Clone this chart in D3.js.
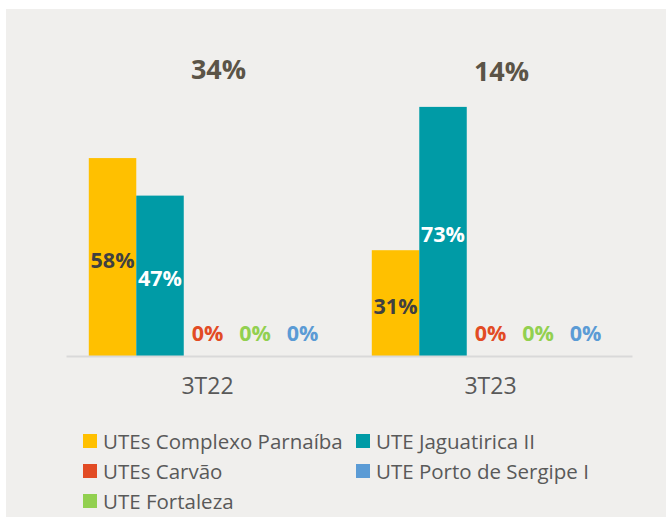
<!DOCTYPE html>
<html lang="pt">
<head>
    <meta charset="UTF-8">
    <title>UTEs 3T22 x 3T23</title>
    <script src="https://d3js.org/d3.v7.min.js"></script>
    <style>
        body { margin: 0; background: #ffffff; }
        text { font-family: "Open Sans", "Noto Sans", sans-serif; }
    </style>
</head>
<body>
    <div id="chart"></div>

    <script>
        // Data
        const categories = ["3T22", "3T23"];
        const seriesNames = ["UTEs Complexo Parnaíba", "UTE Jaguatirica II", "UTEs Carvão", "UTE Fortaleza", "UTE Porto de Sergipe I"];
        const seriesColors = ["#ffc000", "#009ba6", "#e24b24", "#92d050", "#5b9bd5"];
        const values3T22 = [58, 47, 0, 0, 0];
        const values3T23 = [31, 73, 0, 0, 0];
        const topLabels = ["34%", "14%"];
        // legend order as it appears (row by row, two columns)
        const legendOrder = ["UTEs Complexo Parnaíba", "UTE Jaguatirica II", "UTEs Carvão", "UTE Porto de Sergipe I", "UTE Fortaleza"];

        const width = 666, height = 517;

        const svg = d3.select("#chart")
            .append("svg")
            .attr("width", width)
            .attr("height", height);

        // Light gray chart background (white strip on top / left like the original)
        svg.append("rect")
            .attr("x", 6).attr("y", 9)
            .attr("width", width - 6).attr("height", height - 9)
            .attr("fill", "#f0efed");

        const data = categories.map((c, i) => ({
            category: c,
            values: (i === 0 ? values3T22 : values3T23).map((v, j) => ({ name: seriesNames[j], value: v, color: seriesColors[j] }))
        }));

        // Scales
        const x0 = d3.scaleBand()
            .domain(categories)
            .range([66, 632]);

        const x1 = d3.scaleBand()
            .domain(seriesNames)
            .range([0, x0.bandwidth()])
            .paddingOuter(0.48);

        const y = d3.scaleLinear()
            .domain([0, 80])
            .range([356, 83]);

        const groups = svg.selectAll(".group")
            .data(data)
            .enter()
            .append("g")
            .attr("transform", d => `translate(${x0(d.category)},0)`);

        // Bars
        groups.selectAll("rect")
            .data(d => d.values)
            .enter()
            .append("rect")
            .attr("x", d => x1(d.name))
            .attr("y", d => y(d.value))
            .attr("width", x1.bandwidth())
            .attr("height", d => y(0) - y(d.value))
            .attr("fill", d => d.color);

        // Value labels (centered in bar, zero values sit above the axis)
        groups.selectAll(".val")
            .data(d => d.values)
            .enter()
            .append("text")
            .attr("x", d => x1(d.name) + x1.bandwidth() / 2)
            .attr("y", d => d.value > 0 ? y(d.value / 2) + 2 : y(0) - 24)
            .attr("text-anchor", "middle")
            .attr("dominant-baseline", "central")
            .style("font-size", "21.5px")
            .style("font-weight", "bold")
            .style("fill", (d, j) => d.value === 0 ? d.color : (j === 0 ? "#404040" : "#ffffff"))
            .text(d => d.value + "%");

        // Axis line
        const xAxis = svg.append("g")
            .attr("transform", `translate(0,${y(0)})`)
            .call(d3.axisBottom(x0).tickSize(0).tickPadding(22));
        xAxis.select(".domain").attr("stroke", "#d9d9d9").attr("stroke-width", 2);
        xAxis.selectAll("text")
            .style("font-family", "'Open Sans', sans-serif")
            .style("font-size", "23px")
            .style("fill", "#595959");

        // Big annotations above each group
        svg.selectAll(".top")
            .data(categories)
            .enter()
            .append("text")
            .attr("x", c => x0(c) + x0.bandwidth() / 2 + 11)
            .attr("y", (c, i) => i === 0 ? 79 : 81)
            .attr("text-anchor", "middle")
            .style("font-size", "27px")
            .style("font-weight", "bold")
            .style("fill", "#5b5447")
            .text((c, i) => topLabels[i]);

        // Legend, two columns
        const legend = svg.selectAll(".legend")
            .data(legendOrder)
            .enter()
            .append("g")
            .attr("transform", (d, i) => `translate(${i % 2 === 0 ? 83 : 356},${434 + Math.floor(i / 2) * 30})`);

        legend.append("rect")
            .attr("width", 14)
            .attr("height", 14)
            .attr("fill", d => seriesColors[seriesNames.indexOf(d)]);

        legend.append("text")
            .attr("x", 20)
            .attr("y", 7)
            .attr("dominant-baseline", "central")
            .style("font-size", "20.5px")
            .style("fill", "#595959")
            .text(d => d);
    </script>
</body>
</html>
